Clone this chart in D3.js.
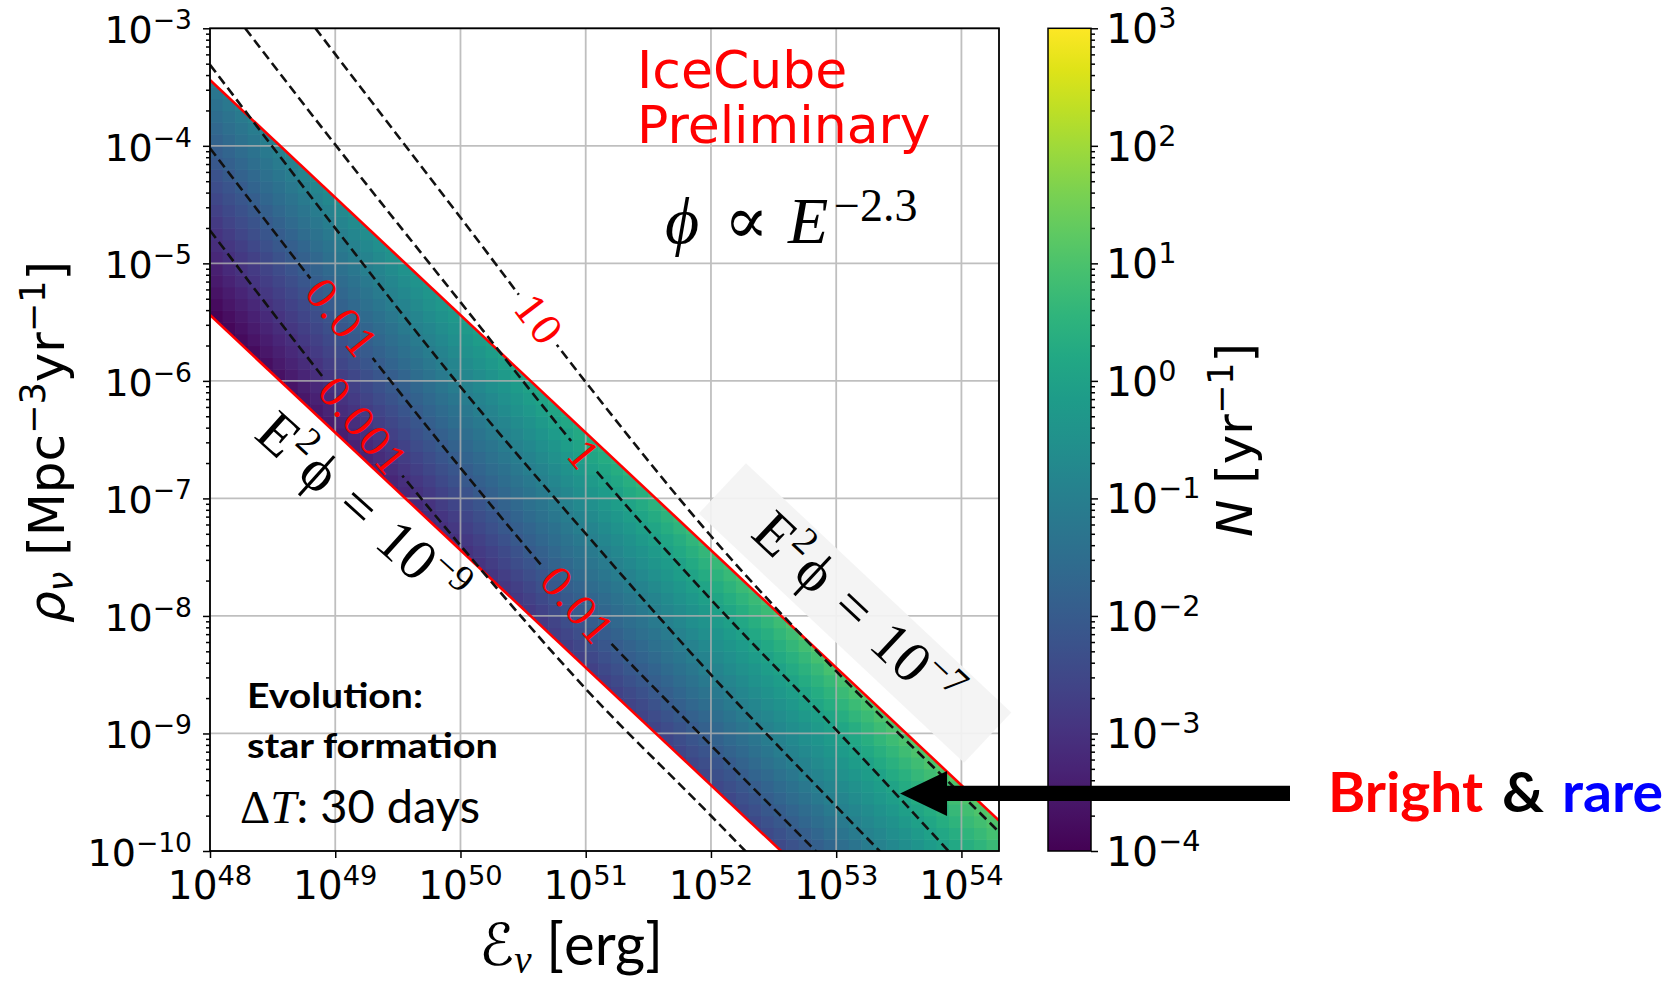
<!DOCTYPE html>
<html>
<head>
<meta charset="utf-8">
<script src="https://cdn.jsdelivr.net/npm/d3@7/dist/d3.min.js"></script>
<style>
  body { margin: 0; background: #fff; }
  svg { display: block; }
</style>
</head>
<body>
<div id="chart"></div>
<script>
// Rate of neutrino multiplets N over (source energy, source rate density)

// ---- values ----
// energies (log10 erg) at which the N contours were read
var logE = [48, 49, 50, 51, 52, 53, 54, 54.5];
// log10 rho where each N contour sits at those energies
var contour10   = [-1.82, -3.22, -4.61, -6.01, -7.32, -8.47, -9.52, -10.05];
var contour1    = [-2.61, -3.99, -5.33, -6.66, -7.86, -8.97, -10.12, -10.70];
var contour01   = [-3.31, -4.70, -6.05, -7.30, -8.50, -9.62, -10.72, -11.30];
var contour001  = [-4.02, -5.40, -6.74, -8.00, -9.10, -10.18, -11.30, -11.85];
var contour0001 = [-4.72, -6.10, -7.40, -8.62, -9.70, -10.80, -11.90, -12.45];
var contourLevels = [10, 1, 0.1, 0.01, 0.001];
// band edges, log10(rho * E) for E^2 phi = 1e-7 and 1e-9
var bandTop = 44.56;
var bandBottom = 42.56;
// inline contour labels
var labelText  = ["10", "1", "0.01", "0.01", "0.001"];
var labelLevel = [10, 1, 0.01, 0.01, 0.001];
var labelLogE  = [50.62, 50.98, 49.05, 50.93, 49.22];
// tick exponents
var xTickExp  = [48, 49, 50, 51, 52, 53, 54];
var yTickExp  = [-10, -9, -8, -7, -6, -5, -4, -3];
var cbTickExp = [-4, -3, -2, -1, 0, 1, 2, 3];

// ---- layout ----
var W = 1674, H = 982;
var plot = { left: 210, top: 28.3, right: 999, bottom: 851 };
var cb = { left: 1048, right: 1091 };
var dash = "9.5,5";

var svg = d3.select("#chart").append("svg")
    .attr("width", W).attr("height", H)
    .style("font-family", "'DejaVu Sans', sans-serif");

svg.append("rect").attr("width", W).attr("height", H).attr("fill", "#fff");
var defs = svg.append("defs");

// scales
var x = d3.scaleLog().domain([1e48, Math.pow(10, 54.3)]).range([plot.left, plot.right]);
var y = d3.scaleLog().domain([1e-10, 1e-3]).range([plot.bottom, plot.top]);
var cbY = d3.scaleLog().domain([1e-4, 1e3]).range([plot.bottom, plot.top]);
var color = d3.scaleSequential(d3.interpolateViridis).domain([-4, 3]).clamp(true);
function px(lx) { return x(Math.pow(10, lx)); }
function py(ly) { return y(Math.pow(10, ly)); }

// contour position as a function of log E
var contours = [contour10, contour1, contour01, contour001, contour0001];
var contourAt = contours.map(function(c) {
    return d3.scaleLinear().domain(logE).range(c);
});
function logN(lx, ly) {
    var ys = contourAt.map(function(f) { return f(lx); }).reverse();
    return d3.scaleLinear().domain(ys).range([-3, -2, -1, 0, 1])(ly);
}

// clip paths
defs.append("clipPath").attr("id", "plotClip").append("rect")
    .attr("x", plot.left).attr("y", plot.top)
    .attr("width", plot.right - plot.left).attr("height", plot.bottom - plot.top);

var band = [[48, bandTop - 48], [54.3, bandTop - 54.3], [54.3, -10],
            [bandBottom + 10, -10], [48, bandBottom - 48]];
defs.append("clipPath").attr("id", "bandClip").append("path")
    .attr("d", d3.line()(band.map(function(p) { return [px(p[0]), py(p[1])]; })) + "Z");

// ---- heatmap cells ----
var cells = [];
for (var i = 0; i < 63; i++) {
    for (var j = 0; j < 70; j++) {
        var lx = 48 + i * 0.1, ly = -10 + j * 0.1;
        var s = lx + ly + 0.1;
        if (s < bandBottom - 0.12 || s > bandTop + 0.12) continue;
        cells.push({ lx: lx, ly: ly, v: logN(lx + 0.05, ly + 0.05) });
    }
}
svg.append("g").attr("clip-path", "url(#bandClip)")
    .selectAll("rect").data(cells).enter().append("rect")
    .attr("x", function(d) { return px(d.lx); })
    .attr("y", function(d) { return py(d.ly + 0.1); })
    .attr("width", function(d) { return px(d.lx + 0.1) - px(d.lx) + 0.6; })
    .attr("height", function(d) { return py(d.ly) - py(d.ly + 0.1) + 0.6; })
    .attr("fill", function(d) { return color(d.v); });

// ---- grid ----
var grid = svg.append("g").attr("stroke", "#b0b0b0").attr("stroke-width", 1.8).attr("opacity", 0.8);
grid.selectAll(".gx").data(xTickExp).enter().append("line")
    .attr("x1", px).attr("x2", px).attr("y1", plot.top).attr("y2", plot.bottom);
grid.selectAll(".gy").data(yTickExp).enter().append("line")
    .attr("y1", py).attr("y2", py).attr("x1", plot.left).attr("x2", plot.right);

// ---- light box behind the 1e-7 label ----
var boxG = svg.append("g").attr("transform", "translate(855,613) rotate(43.2)");
boxG.append("rect").attr("x", -182).attr("y", -34.5).attr("width", 364).attr("height", 69)
    .attr("fill", "#f3f3f3").attr("opacity", 0.92);

// ---- band edges (red) ----
var redG = svg.append("g").attr("clip-path", "url(#plotClip)");
[[[48, bandTop - 48], [54.3, bandTop - 54.3]],
 [[48, bandBottom - 48], [bandBottom + 10, -10]]].forEach(function(seg) {
    redG.append("path")
        .attr("d", d3.line()(seg.map(function(p) { return [px(p[0]), py(p[1])]; })))
        .attr("fill", "none").attr("stroke", "#ff0000").attr("stroke-width", 2.6);
});

// ---- contour lines (dashed) ----
var contourOuter = svg.append("g").attr("clip-path", "url(#plotClip)");
var contourG = contourOuter.append("g").attr("mask", "url(#labelMask)");
var cline = d3.line().curve(d3.curveMonotoneX)
    .x(function(d) { return px(d[0]); }).y(function(d) { return py(d[1]); });
contours.forEach(function(c) {
    contourG.append("path")
        .attr("d", cline(logE.map(function(e, k) { return [e, c[k]]; })))
        .attr("fill", "none").attr("stroke", "#111").attr("stroke-width", 2.6)
        .attr("stroke-dasharray", dash);
});

// ---- contour labels ----
var labelG = svg.append("g");
var maskRects = [];
labelText.forEach(function(t, k) {
    var f = contourAt[contourLevels.indexOf(labelLevel[k])];
    var lx = labelLogE[k];
    var cx = px(lx), cy = py(f(lx));
    var ang = Math.atan2(py(f(lx + 0.05)) - py(f(lx - 0.05)), px(lx + 0.05) - px(lx - 0.05)) * 180 / Math.PI;
    var txt = labelG.append("text")
        .attr("transform", "translate(" + cx + "," + cy + ") rotate(" + ang + ")")
        .attr("text-anchor", "middle").attr("dy", "0.36em")
        .style("font-family", "'DejaVu Serif', serif").style("font-size", "40px")
        .attr("fill", "#ff0000").text(t);
    maskRects.push({ cx: cx, cy: cy, ang: ang, w: txt.node().getComputedTextLength() + 12 });
});
var mask = defs.append("mask").attr("id", "labelMask").attr("maskUnits", "userSpaceOnUse")
    .attr("x", 0).attr("y", 0).attr("width", W).attr("height", H);
mask.append("rect").attr("width", W).attr("height", H).attr("fill", "#fff");
maskRects.forEach(function(m) {
    mask.append("rect")
        .attr("transform", "translate(" + m.cx + "," + m.cy + ") rotate(" + m.ang + ")")
        .attr("x", -m.w / 2).attr("y", -16).attr("width", m.w).attr("height", 32)
        .attr("fill", "#000");
});

// ---- frame, ticks ----
svg.append("rect").attr("x", plot.left).attr("y", plot.top)
    .attr("width", plot.right - plot.left).attr("height", plot.bottom - plot.top)
    .attr("fill", "none").attr("stroke", "#000").attr("stroke-width", 1.8);

function minorValues(lo, hi) {
    var out = [];
    for (var e = lo; e < hi; e++) for (var m = 2; m <= 9; m++) out.push(m * Math.pow(10, e));
    return out;
}
function styleAxis(g) {
    g.select(".domain").remove();
    g.selectAll(".tick line").attr("stroke", "#000").attr("stroke-width", 1.5);
}
svg.append("g").attr("transform", "translate(" + plot.left + ",0)")
    .call(d3.axisLeft(y).tickValues(yTickExp.map(function(e) { return Math.pow(10, e); }))
        .tickSize(7).tickSizeOuter(0).tickFormat(""))
    .call(styleAxis);
svg.append("g").attr("transform", "translate(" + plot.left + ",0)")
    .call(d3.axisLeft(y).tickValues(minorValues(-10, -3)).tickSize(4).tickSizeOuter(0).tickFormat(""))
    .call(styleAxis);
svg.append("g").attr("transform", "translate(0," + plot.bottom + ")")
    .call(d3.axisBottom(x).tickValues(xTickExp.map(function(e) { return Math.pow(10, e); }))
        .tickSize(7).tickSizeOuter(0).tickFormat(""))
    .call(styleAxis);

function powLabel(sel, e, fs) {
    sel.append("tspan").text("10");
    sel.append("tspan").attr("dy", -0.37 * fs).style("font-size", (0.7 * fs) + "px")
        .text(e < 0 ? "\u2212" + (-e) : String(e));
}
svg.selectAll(".ylab").data(yTickExp).enter().append("text")
    .attr("x", 192).attr("y", function(e) { return py(e) + 15; })
    .attr("text-anchor", "end").style("font-size", "38px")
    .each(function(e) { powLabel(d3.select(this), e, 38); });
svg.selectAll(".xlab").data(xTickExp).enter().append("text")
    .attr("x", px).attr("y", 899)
    .attr("text-anchor", "middle").style("font-size", "39px")
    .each(function(e) { powLabel(d3.select(this), e, 39); });

// axis titles
var yt = svg.append("text").attr("transform", "translate(64,442) rotate(-90)")
    .attr("text-anchor", "middle").style("font-size", "50px");
yt.append("tspan").style("font-style", "italic").text("\u03c1");
yt.append("tspan").attr("dy", 9).style("font-size", "35px").style("font-style", "italic").text("\u03bd");
yt.append("tspan").attr("dy", -9).text(" [Mpc");
yt.append("tspan").attr("dy", -19).style("font-size", "35px").text("\u22123");
yt.append("tspan").attr("dy", 19).text("yr");
yt.append("tspan").attr("dy", -19).style("font-size", "35px").text("\u22121");
yt.append("tspan").attr("dy", 19).text("]");

var xt = svg.append("text").attr("x", 479).attr("y", 965)
    .style("font-family", "Lato, 'DejaVu Sans', sans-serif").style("font-size", "58px");
xt.append("tspan").style("font-family", "'DejaVu Sans', sans-serif").text("\u2130");
xt.append("tspan").attr("dy", 8).style("font-size", "39px").style("font-style", "italic")
    .style("font-family", "'Liberation Serif', serif").text("\u03bd");
xt.append("tspan").attr("dy", -8).text(" [erg]");

// ---- annotations inside the plot ----
svg.append("text").attr("x", 637).attr("y", 88).attr("fill", "#ff0000")
    .style("font-size", "52px").text("IceCube");
svg.append("text").attr("x", 637).attr("y", 143).attr("fill", "#ff0000")
    .style("font-size", "52px").text("Preliminary");

var phi = svg.append("g")
    .style("font-family", "'Liberation Serif', 'DejaVu Serif', serif").style("font-size", "66px");
phi.append("text").attr("x", 665).attr("y", 243).style("font-style", "italic").text("\u03d5");
phi.append("text").attr("x", 724).attr("y", 243).text("\u221d");
phi.append("text").attr("x", 788).attr("y", 243).style("font-style", "italic").text("E");
phi.append("text").attr("x", 834).attr("y", 221).style("font-size", "46px").text("\u22122.3");

function e2phi(g, exp) {
    var t = g.append("text").attr("text-anchor", "middle").attr("dy", 16)
        .style("font-family", "'Liberation Serif', 'DejaVu Serif', serif").style("font-size", "58px");
    t.append("tspan").text("E");
    t.append("tspan").attr("dy", -22).style("font-size", "38px").text("2");
    t.append("tspan").attr("dy", 22).attr("dx", 4).text("\u03d5");
    t.append("tspan").attr("dx", 20).text("=");
    t.append("tspan").attr("dx", 20).text("10");
    t.append("tspan").attr("dy", -22).style("font-size", "38px").text("\u2212" + exp);
}
e2phi(svg.append("g").attr("transform", "translate(360,512) rotate(42)"), 9);
e2phi(boxG, 7);

svg.append("text").attr("x", 247).attr("y", 708)
    .attr("textLength", 176).attr("lengthAdjust", "spacingAndGlyphs")
    .style("font-family", "Lato, sans-serif").style("font-weight", "bold").style("font-size", "35px")
    .text("Evolution:");
svg.append("text").attr("x", 247).attr("y", 758)
    .attr("textLength", 251).attr("lengthAdjust", "spacingAndGlyphs")
    .style("font-family", "Lato, sans-serif").style("font-weight", "bold").style("font-size", "35px")
    .text("star formation");
var dt = svg.append("text").attr("x", 240).attr("y", 823)
    .style("font-family", "Lato, sans-serif").style("font-size", "47px");
dt.append("tspan").style("font-family", "'Liberation Serif', serif").text("\u0394");
dt.append("tspan").style("font-family", "'Liberation Serif', serif").style("font-style", "italic").text("T");
dt.append("tspan").text(": 30 days");

// ---- colorbar ----
var grad = defs.append("linearGradient").attr("id", "viridis")
    .attr("x1", 0).attr("y1", 1).attr("x2", 0).attr("y2", 0);
d3.range(0, 1.0001, 0.05).forEach(function(t) {
    grad.append("stop").attr("offset", t).attr("stop-color", d3.interpolateViridis(t));
});
svg.append("rect").attr("x", cb.left).attr("y", plot.top)
    .attr("width", cb.right - cb.left).attr("height", plot.bottom - plot.top)
    .attr("fill", "url(#viridis)").attr("stroke", "#000").attr("stroke-width", 1.5);
svg.append("g").attr("transform", "translate(" + cb.right + ",0)")
    .call(d3.axisRight(cbY).tickValues(cbTickExp.map(function(e) { return Math.pow(10, e); }))
        .tickSize(7).tickSizeOuter(0).tickFormat(""))
    .call(styleAxis);
svg.append("g").attr("transform", "translate(" + cb.right + ",0)")
    .call(d3.axisRight(cbY).tickValues(minorValues(-4, 3)).tickSize(4).tickSizeOuter(0).tickFormat(""))
    .call(styleAxis);
svg.selectAll(".cblab").data(cbTickExp).enter().append("text")
    .attr("x", 1106).attr("y", function(e) { return cbY(Math.pow(10, e)) + 15; })
    .style("font-size", "41px")
    .each(function(e) { powLabel(d3.select(this), e, 41); });

var ct = svg.append("text").attr("transform", "translate(1252,440) rotate(-90)")
    .attr("text-anchor", "middle").style("font-size", "50px");
ct.append("tspan").style("font-style", "italic").text("N");
ct.append("tspan").text(" [yr");
ct.append("tspan").attr("dy", -19).style("font-size", "35px").text("\u22121");
ct.append("tspan").attr("dy", 19).text("]");

// ---- arrow and note ----
var tipX = px(53.51), tipY = py(-9.51);
svg.append("path")
    .attr("d", "M" + tipX + "," + tipY +
        "L" + (tipX + 47) + "," + (tipY - 22.5) +
        "L" + (tipX + 47) + "," + (tipY - 7.6) +
        "L1290," + (tipY - 7.6) +
        "L1290," + (tipY + 7.6) +
        "L" + (tipX + 47) + "," + (tipY + 7.6) +
        "L" + (tipX + 47) + "," + (tipY + 22.5) + "Z")
    .attr("fill", "#000");

var note = [["Bright", "#ff0000", 1328, 155], ["&", "#000", 1502, 42], ["rare", "#0000ff", 1562, 101]];
note.forEach(function(n) {
    svg.append("text").attr("x", n[2]).attr("y", 812)
        .attr("textLength", n[3]).attr("lengthAdjust", "spacingAndGlyphs")
        .style("font-family", "Lato, sans-serif").style("font-weight", "bold").style("font-size", "55px")
        .attr("fill", n[1]).text(n[0]);
});
</script>
</body>
</html>
